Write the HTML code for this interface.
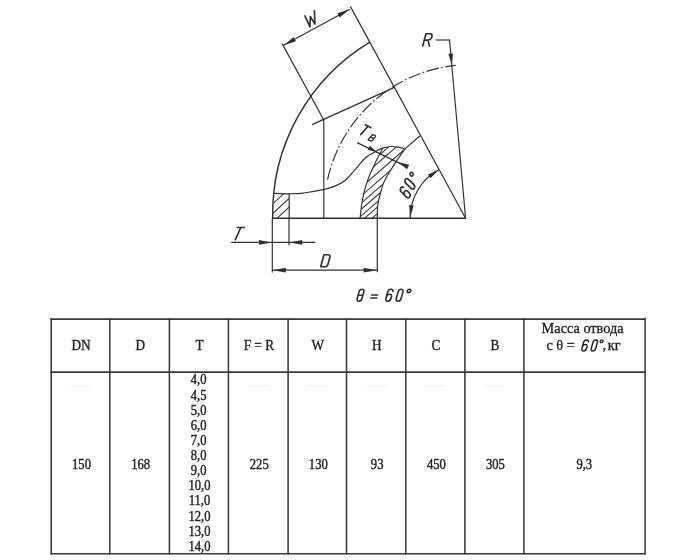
<!DOCTYPE html>
<html><head><meta charset="utf-8"><title>Elbow 60</title>
<style>
html,body{margin:0;padding:0;background:#fff;}
body{width:700px;height:560px;position:relative;overflow:hidden;font-family:"Liberation Serif",serif;}
</style></head><body>
<svg width="700" height="560" viewBox="0 0 700 560" style="position:absolute;left:0;top:0;filter:grayscale(1) blur(0.3px)">
<line x1="272.10" y1="218.30" x2="465.90" y2="218.30" stroke="#303030" stroke-width="1.45" />
<line x1="350.30" y1="6.40" x2="465.60" y2="218.30" stroke="#303030" stroke-width="1.18" />
<line x1="282.10" y1="43.60" x2="323.40" y2="119.30" stroke="#303030" stroke-width="1.18" />
<line x1="283.60" y1="45.30" x2="349.80" y2="9.30" stroke="#303030" stroke-width="1.18" />
<polygon points="283.60,45.30 293.72,37.12 295.97,41.25" fill="#303030"/>
<polygon points="349.80,9.30 339.68,17.48 337.43,13.35" fill="#303030"/>
<line x1="449.50" y1="40.00" x2="465.60" y2="218.30" stroke="#303030" stroke-width="1.18" />
<line x1="435.70" y1="40.00" x2="450.00" y2="40.00" stroke="#303030" stroke-width="1.18" />
<polygon points="451.80,65.60 448.38,53.86 453.06,53.44" fill="#303030"/>
<path d="M272.71,218.30 A200.79,200.79 0 0 1 369.83,42.05" fill="none" stroke="#303030" stroke-width="1.45" />
<clipPath id="cr"><polygon points="272.8,218.3 274.0,193.3 289.2,193.7 289.2,218.3"/></clipPath>
<g clip-path="url(#cr)" stroke="#333" stroke-width="1.05"><line x1="-63.97" y1="517.91" x2="521.11" y2="-27.69"/><line x1="-59.16" y1="523.07" x2="525.92" y2="-22.53"/><line x1="-54.80" y1="527.75" x2="530.29" y2="-17.85"/></g>
<line x1="289.20" y1="193.50" x2="289.20" y2="218.30" stroke="#303030" stroke-width="1.18" />
<line x1="323.80" y1="119.30" x2="323.80" y2="218.30" stroke="#303030" stroke-width="1.18" />
<line x1="312.10" y1="124.60" x2="394.40" y2="87.40" stroke="#303030" stroke-width="1.18" />
<path d="M274.00,193.30 C275.57,193.38 280.83,193.72 283.40,193.80 C285.97,193.88 286.53,193.88 289.40,193.80 C292.27,193.72 297.17,193.60 300.60,193.30 C304.03,193.00 306.43,192.57 310.00,192.00 C313.57,191.43 317.95,190.83 322.00,189.90 C326.05,188.97 330.35,188.05 334.30,186.40 C338.25,184.75 342.20,182.85 345.70,180.00 C349.20,177.15 351.90,173.08 355.30,169.30 C358.70,165.52 362.58,160.33 366.10,157.30 C369.62,154.27 373.53,152.67 376.40,151.10 C379.27,149.53 380.87,148.67 383.30,147.90 C385.73,147.13 388.43,146.62 391.00,146.50 C393.57,146.38 396.38,146.80 398.70,147.20 C401.02,147.60 403.87,148.62 404.90,148.90" fill="none" stroke="#303030" stroke-width="1.18" />
<path d="M360.10,218.30 C360.35,216.08 360.93,209.37 361.60,205.00 C362.27,200.63 363.18,195.95 364.10,192.10 C365.02,188.25 366.17,184.75 367.10,181.90 C368.03,179.05 368.70,177.40 369.70,175.00 C370.70,172.60 371.70,170.48 373.10,167.50 C374.50,164.52 376.52,160.25 378.10,157.10 C379.68,153.95 381.85,150.02 382.60,148.60" fill="none" stroke="#303030" stroke-width="1.18" />
<path d="M404.90,148.90 C404.02,150.18 401.60,153.65 399.60,156.60 C397.60,159.55 394.88,163.53 392.90,166.60 C390.92,169.67 389.35,172.03 387.70,175.00 C386.05,177.97 384.28,181.12 383.00,184.40 C381.72,187.68 380.87,191.27 380.00,194.70 C379.13,198.13 378.27,201.07 377.80,205.00 C377.33,208.93 377.30,216.08 377.20,218.30" fill="none" stroke="#303030" stroke-width="1.18" />
<clipPath id="cc"><path d="M360.10,218.30 C360.35,216.08 360.93,209.37 361.60,205.00 C362.27,200.63 363.18,195.95 364.10,192.10 C365.02,188.25 366.17,184.75 367.10,181.90 C368.03,179.05 368.70,177.40 369.70,175.00 C370.70,172.60 371.70,170.48 373.10,167.50 C374.50,164.52 376.52,160.25 378.10,157.10 C379.68,153.95 381.85,150.02 382.60,148.60 L382.60,148.40 C384.00,148.08 388.32,146.70 391.00,146.50 C393.68,146.30 396.38,146.80 398.70,147.20 C401.02,147.60 403.87,148.62 404.90,148.90 L404.90,148.90 C404.02,150.18 401.60,153.65 399.60,156.60 C397.60,159.55 394.88,163.53 392.90,166.60 C390.92,169.67 389.35,172.03 387.70,175.00 C386.05,177.97 384.28,181.12 383.00,184.40 C381.72,187.68 380.87,191.27 380.00,194.70 C379.13,198.13 378.27,201.07 377.80,205.00 C377.33,208.93 377.30,216.08 377.20,218.30 Z"/></clipPath>
<g clip-path="url(#cc)" stroke="#333" stroke-width="1.05"><line x1="-61.83" y1="538.57" x2="541.94" y2="13.72"/><line x1="-58.55" y1="542.35" x2="545.22" y2="17.50"/><line x1="-53.76" y1="547.85" x2="550.01" y2="23.01"/><line x1="-49.43" y1="552.84" x2="554.34" y2="27.99"/><line x1="-45.89" y1="556.91" x2="557.88" y2="32.06"/><line x1="-42.81" y1="560.46" x2="560.96" y2="35.61"/><line x1="-39.53" y1="564.23" x2="564.24" y2="39.38"/><line x1="-36.90" y1="567.25" x2="566.87" y2="42.40"/><line x1="-33.69" y1="570.95" x2="570.08" y2="46.10"/></g>
<line x1="404.90" y1="148.90" x2="419.80" y2="136.00" stroke="#303030" stroke-width="1.18" />
<path d="M327.57,179.69 A146.04,146.04 0 0 1 455.74,65.40" fill="none" stroke="#303030" stroke-width="1.15" stroke-dasharray="12.6 2.5 1.6 2.5"/>
<line x1="357.10" y1="142.60" x2="408.00" y2="167.40" stroke="#303030" stroke-width="1.18" />
<polygon points="376.50,151.60 367.72,149.99 369.82,145.68" fill="#303030"/>
<polygon points="398.00,162.10 409.14,164.80 407.00,169.21" fill="#303030"/>
<path d="M410.10,218.30 A55.5,55.5 0 0 1 439.07,169.55" fill="none" stroke="#303030" stroke-width="1.18" />
<polygon points="410.10,218.00 409.15,205.03 413.73,205.51" fill="#303030"/>
<polygon points="439.07,169.55 430.49,178.25 427.89,174.46" fill="#303030"/>
<line x1="272.30" y1="218.30" x2="272.30" y2="272.50" stroke="#303030" stroke-width="1.18" />
<line x1="377.30" y1="218.30" x2="377.30" y2="272.30" stroke="#303030" stroke-width="1.18" />
<line x1="272.30" y1="270.20" x2="377.30" y2="270.20" stroke="#303030" stroke-width="1.18" />
<polygon points="272.60,270.20 285.90,267.85 285.90,272.55" fill="#303030"/>
<polygon points="377.00,270.20 363.70,272.55 363.70,267.85" fill="#303030"/>
<line x1="289.00" y1="218.30" x2="289.00" y2="245.30" stroke="#303030" stroke-width="1.18" />
<line x1="231.20" y1="242.40" x2="315.20" y2="242.40" stroke="#303030" stroke-width="1.18" />
<polygon points="272.00,242.40 259.00,244.75 259.00,240.05" fill="#303030"/>
<polygon points="289.20,242.40 302.20,240.05 302.20,244.75" fill="#303030"/>
<path d="M0,-1 L0.57,-1 M0.285,-1 L0.285,0" transform="translate(231.90,239.70) rotate(0) scale(12.2) skewX(-24)" fill="none" stroke="#303030" stroke-width="1.65" vector-effect="non-scaling-stroke" stroke-linecap="round" stroke-linejoin="round"/>
<path d="M0,0 L0,-1 L0.33,-1 Q0.55,-1 0.55,-0.79 L0.55,-0.21 Q0.55,0 0.33,0 Z" transform="translate(320.70,266.70) rotate(0) scale(12.0) skewX(-15)" fill="none" stroke="#303030" stroke-width="1.65" vector-effect="non-scaling-stroke" stroke-linecap="round" stroke-linejoin="round"/>
<path d="M0.2,-1 Q0,-1 0,-0.78 L0,-0.22 Q0,0 0.2,0 Q0.4,0 0.4,-0.22 L0.4,-0.78 Q0.4,-1 0.2,-1 Z M0,-0.5 L0.4,-0.5" transform="translate(356.50,301.20) rotate(0) scale(12.0) skewX(-15)" fill="none" stroke="#303030" stroke-width="1.65" vector-effect="non-scaling-stroke" stroke-linecap="round" stroke-linejoin="round"/>
<path d="M0,-0.52 L0.5,-0.52 M0,-0.27 L0.5,-0.27" transform="translate(370.00,301.20) rotate(0) scale(12.0) skewX(-15)" fill="none" stroke="#303030" stroke-width="1.65" vector-effect="non-scaling-stroke" stroke-linecap="round" stroke-linejoin="round"/>
<path d="M0.42,-0.82 Q0.42,-1 0.21,-1 Q0,-1 0,-0.78 L0,-0.22 Q0,0 0.21,0 Q0.42,0 0.42,-0.22 L0.42,-0.36 Q0.42,-0.58 0.21,-0.58 Q0,-0.58 0,-0.36" transform="translate(385.20,301.20) rotate(0) scale(12.0) skewX(-15)" fill="none" stroke="#303030" stroke-width="1.65" vector-effect="non-scaling-stroke" stroke-linecap="round" stroke-linejoin="round"/>
<path d="M0.2,-1 Q0,-1 0,-0.78 L0,-0.22 Q0,0 0.2,0 Q0.4,0 0.4,-0.22 L0.4,-0.78 Q0.4,-1 0.2,-1 Z" transform="translate(395.60,301.20) rotate(0) scale(12.0) skewX(-15)" fill="none" stroke="#303030" stroke-width="1.65" vector-effect="non-scaling-stroke" stroke-linecap="round" stroke-linejoin="round"/>
<path d="M0.145,-1 A0.145,0.145 0 1 0 0.145,-0.71 A0.145,0.145 0 1 0 0.145,-1 Z" transform="translate(404.50,301.20) rotate(0) scale(12.0) skewX(-15)" fill="none" stroke="#303030" stroke-width="1.65" vector-effect="non-scaling-stroke" stroke-linecap="round" stroke-linejoin="round"/>
<path d="M0,0 L0,-1 L0.3,-1 Q0.55,-1 0.55,-0.74 Q0.55,-0.48 0.3,-0.48 L0,-0.48 M0.3,-0.48 L0.55,0" transform="translate(422.70,46.00) rotate(0) scale(12.3) skewX(-15)" fill="none" stroke="#303030" stroke-width="1.65" vector-effect="non-scaling-stroke" stroke-linecap="round" stroke-linejoin="round"/>
<path d="M0,-1 L0.21,0 L0.44,-0.74 L0.68,0 L0.9,-1" transform="translate(307.80,28.00) rotate(-28.537641514728854) scale(12.0) skewX(-15)" fill="none" stroke="#303030" stroke-width="1.65" vector-effect="non-scaling-stroke" stroke-linecap="round" stroke-linejoin="round"/>
<path d="M0,-1 L0.57,-1 M0.285,-1 L0.285,0" transform="translate(357.90,133.30) rotate(25.976726567548035) scale(10.8) skewX(-15)" fill="none" stroke="#303030" stroke-width="1.65" vector-effect="non-scaling-stroke" stroke-linecap="round" stroke-linejoin="round"/>
<path d="M0,0 L0,-1 L0.3,-1 Q0.55,-1 0.55,-0.76 Q0.55,-0.52 0.3,-0.52 L0,-0.52 M0.3,-0.52 Q0.55,-0.52 0.55,-0.26 Q0.55,0 0.3,0 L0,0" transform="translate(368.20,139.80) rotate(25.976726567548035) scale(6.8) skewX(-15)" fill="none" stroke="#303030" stroke-width="1.35" vector-effect="non-scaling-stroke" stroke-linecap="round" stroke-linejoin="round"/>
<path d="M0.42,-0.82 Q0.42,-1 0.21,-1 Q0,-1 0,-0.78 L0,-0.22 Q0,0 0.21,0 Q0.42,0 0.42,-0.22 L0.42,-0.36 Q0.42,-0.58 0.21,-0.58 Q0,-0.58 0,-0.36" transform="translate(408.60,198.90) rotate(-61.7) scale(12.0) skewX(-15)" fill="none" stroke="#303030" stroke-width="1.65" vector-effect="non-scaling-stroke" stroke-linecap="round" stroke-linejoin="round"/>
<path d="M0.2,-1 Q0,-1 0,-0.78 L0,-0.22 Q0,0 0.2,0 Q0.4,0 0.4,-0.22 L0.4,-0.78 Q0.4,-1 0.2,-1 Z" transform="translate(413.20,190.30) rotate(-61.7) scale(12.0) skewX(-15)" fill="none" stroke="#303030" stroke-width="1.65" vector-effect="non-scaling-stroke" stroke-linecap="round" stroke-linejoin="round"/>
<path d="M0.145,-1 A0.145,0.145 0 1 0 0.145,-0.71 A0.145,0.145 0 1 0 0.145,-1 Z" transform="translate(418.50,183.00) rotate(-61.7) scale(12.0) skewX(-15)" fill="none" stroke="#303030" stroke-width="1.65" vector-effect="non-scaling-stroke" stroke-linecap="round" stroke-linejoin="round"/>
<line x1="51.20" y1="318.33" x2="51.20" y2="554.57" stroke="#3a3a3a" stroke-width="1.55" />
<line x1="109.80" y1="318.33" x2="109.80" y2="554.57" stroke="#3a3a3a" stroke-width="1.55" />
<line x1="169.40" y1="318.33" x2="169.40" y2="554.57" stroke="#3a3a3a" stroke-width="1.55" />
<line x1="228.40" y1="318.33" x2="228.40" y2="554.57" stroke="#3a3a3a" stroke-width="1.55" />
<line x1="288.10" y1="318.33" x2="288.10" y2="554.57" stroke="#3a3a3a" stroke-width="1.55" />
<line x1="346.50" y1="318.33" x2="346.50" y2="554.57" stroke="#3a3a3a" stroke-width="1.55" />
<line x1="405.80" y1="318.33" x2="405.80" y2="554.57" stroke="#3a3a3a" stroke-width="1.55" />
<line x1="464.90" y1="318.33" x2="464.90" y2="554.57" stroke="#3a3a3a" stroke-width="1.55" />
<line x1="523.90" y1="318.33" x2="523.90" y2="554.57" stroke="#3a3a3a" stroke-width="1.55" />
<line x1="645.10" y1="318.33" x2="645.10" y2="554.57" stroke="#3a3a3a" stroke-width="1.55" />
<line x1="50.43" y1="319.10" x2="645.88" y2="319.10" stroke="#3a3a3a" stroke-width="1.55" />
<line x1="50.43" y1="372.10" x2="645.88" y2="372.10" stroke="#3a3a3a" stroke-width="1.55" />
<line x1="50.43" y1="553.80" x2="645.88" y2="553.80" stroke="#3a3a3a" stroke-width="1.55" />
<line x1="70.70" y1="386.00" x2="90.70" y2="386.00" stroke="#f4f4f4" stroke-width="1.6" />
<line x1="249.60" y1="386.00" x2="269.60" y2="386.00" stroke="#f4f4f4" stroke-width="1.6" />
<line x1="306.40" y1="386.00" x2="326.40" y2="386.00" stroke="#f4f4f4" stroke-width="1.6" />
<line x1="366.40" y1="386.00" x2="386.40" y2="386.00" stroke="#f4f4f4" stroke-width="1.6" />
<line x1="425.40" y1="386.00" x2="445.40" y2="386.00" stroke="#f4f4f4" stroke-width="1.6" />
<line x1="484.30" y1="386.00" x2="504.30" y2="386.00" stroke="#f4f4f4" stroke-width="1.6" />
<g>
<text transform="translate(81.10,350.10) scale(0.93,1)" font-family="Liberation Serif, serif" font-size="14.3" fill="#222" stroke="#222" stroke-width="0.35" text-anchor="middle" >DN</text>
<text transform="translate(140.20,350.10) scale(0.93,1)" font-family="Liberation Serif, serif" font-size="14.3" fill="#222" stroke="#222" stroke-width="0.35" text-anchor="middle" >D</text>
<text transform="translate(199.50,350.10) scale(0.93,1)" font-family="Liberation Serif, serif" font-size="14.3" fill="#222" stroke="#222" stroke-width="0.35" text-anchor="middle" >T</text>
<text transform="translate(258.85,350.10) scale(0.93,1)" font-family="Liberation Serif, serif" font-size="14.3" fill="#222" stroke="#222" stroke-width="0.35" text-anchor="middle" >F = R</text>
<text transform="translate(317.90,350.10) scale(0.93,1)" font-family="Liberation Serif, serif" font-size="14.3" fill="#222" stroke="#222" stroke-width="0.35" text-anchor="middle" >W</text>
<text transform="translate(376.75,350.10) scale(0.93,1)" font-family="Liberation Serif, serif" font-size="14.3" fill="#222" stroke="#222" stroke-width="0.35" text-anchor="middle" >H</text>
<text transform="translate(435.95,350.10) scale(0.93,1)" font-family="Liberation Serif, serif" font-size="14.3" fill="#222" stroke="#222" stroke-width="0.35" text-anchor="middle" >C</text>
<text transform="translate(495.00,350.10) scale(0.93,1)" font-family="Liberation Serif, serif" font-size="14.3" fill="#222" stroke="#222" stroke-width="0.35" text-anchor="middle" >B</text>
<text transform="translate(81.50,469.20) scale(0.9,1)" font-family="Liberation Serif, serif" font-size="14.0" fill="#222" stroke="#222" stroke-width="0.4" text-anchor="middle" >150</text>
<text transform="translate(140.60,469.20) scale(0.9,1)" font-family="Liberation Serif, serif" font-size="14.0" fill="#222" stroke="#222" stroke-width="0.4" text-anchor="middle" >168</text>
<text transform="translate(259.25,469.20) scale(0.9,1)" font-family="Liberation Serif, serif" font-size="14.0" fill="#222" stroke="#222" stroke-width="0.4" text-anchor="middle" >225</text>
<text transform="translate(318.30,469.20) scale(0.9,1)" font-family="Liberation Serif, serif" font-size="14.0" fill="#222" stroke="#222" stroke-width="0.4" text-anchor="middle" >130</text>
<text transform="translate(377.15,469.20) scale(0.9,1)" font-family="Liberation Serif, serif" font-size="14.0" fill="#222" stroke="#222" stroke-width="0.4" text-anchor="middle" >93</text>
<text transform="translate(436.35,469.20) scale(0.9,1)" font-family="Liberation Serif, serif" font-size="14.0" fill="#222" stroke="#222" stroke-width="0.4" text-anchor="middle" >450</text>
<text transform="translate(495.40,469.20) scale(0.9,1)" font-family="Liberation Serif, serif" font-size="14.0" fill="#222" stroke="#222" stroke-width="0.4" text-anchor="middle" >305</text>
<text transform="translate(198.60,384.40) scale(0.9,1)" font-family="Liberation Serif, serif" font-size="14.0" fill="#222" stroke="#222" stroke-width="0.4" text-anchor="middle" >4,0</text>
<text transform="translate(198.60,399.53) scale(0.9,1)" font-family="Liberation Serif, serif" font-size="14.0" fill="#222" stroke="#222" stroke-width="0.4" text-anchor="middle" >4,5</text>
<text transform="translate(198.60,414.66) scale(0.9,1)" font-family="Liberation Serif, serif" font-size="14.0" fill="#222" stroke="#222" stroke-width="0.4" text-anchor="middle" >5,0</text>
<text transform="translate(198.60,429.79) scale(0.9,1)" font-family="Liberation Serif, serif" font-size="14.0" fill="#222" stroke="#222" stroke-width="0.4" text-anchor="middle" >6,0</text>
<text transform="translate(198.60,444.92) scale(0.9,1)" font-family="Liberation Serif, serif" font-size="14.0" fill="#222" stroke="#222" stroke-width="0.4" text-anchor="middle" >7,0</text>
<text transform="translate(198.60,460.05) scale(0.9,1)" font-family="Liberation Serif, serif" font-size="14.0" fill="#222" stroke="#222" stroke-width="0.4" text-anchor="middle" >8,0</text>
<text transform="translate(198.60,475.18) scale(0.9,1)" font-family="Liberation Serif, serif" font-size="14.0" fill="#222" stroke="#222" stroke-width="0.4" text-anchor="middle" >9,0</text>
<text transform="translate(199.50,490.31) scale(0.9,1)" font-family="Liberation Serif, serif" font-size="14.0" fill="#222" stroke="#222" stroke-width="0.4" text-anchor="middle" >10,0</text>
<text transform="translate(199.50,505.44) scale(0.9,1)" font-family="Liberation Serif, serif" font-size="14.0" fill="#222" stroke="#222" stroke-width="0.4" text-anchor="middle" >11,0</text>
<text transform="translate(199.50,520.57) scale(0.9,1)" font-family="Liberation Serif, serif" font-size="14.0" fill="#222" stroke="#222" stroke-width="0.4" text-anchor="middle" >12,0</text>
<text transform="translate(199.50,535.70) scale(0.9,1)" font-family="Liberation Serif, serif" font-size="14.0" fill="#222" stroke="#222" stroke-width="0.4" text-anchor="middle" >13,0</text>
<text transform="translate(199.50,550.83) scale(0.9,1)" font-family="Liberation Serif, serif" font-size="14.0" fill="#222" stroke="#222" stroke-width="0.4" text-anchor="middle" >14,0</text>
<text transform="translate(584.30,469.20) scale(0.9,1)" font-family="Liberation Serif, serif" font-size="14.0" fill="#222" stroke="#222" stroke-width="0.4" text-anchor="middle" >9,3</text>
<text transform="translate(582.60,332.60) scale(1.0,1)" font-family="Liberation Serif, serif" font-size="14.3" fill="#222" stroke="#222" stroke-width="0.3" text-anchor="middle" >Масса отвода</text>
<text transform="translate(546.40,350.30) scale(1.0,1)" font-family="Liberation Serif, serif" font-size="14.3" fill="#222" stroke="#222" stroke-width="0.3" text-anchor="start" >с θ =</text>
<text transform="translate(602.60,350.30) scale(1.0,1)" font-family="Liberation Serif, serif" font-size="14.3" fill="#222" stroke="#222" stroke-width="0.3" text-anchor="start" >,</text>
<text transform="translate(607.80,350.30) scale(1.0,1)" font-family="Liberation Serif, serif" font-size="14.3" fill="#222" stroke="#222" stroke-width="0.3" text-anchor="start" >кг</text>
<path d="M0.42,-0.82 Q0.42,-1 0.21,-1 Q0,-1 0,-0.78 L0,-0.22 Q0,0 0.21,0 Q0.42,0 0.42,-0.22 L0.42,-0.36 Q0.42,-0.58 0.21,-0.58 Q0,-0.58 0,-0.36" transform="translate(581.20,351.00) rotate(0) scale(11.1) skewX(-15)" fill="none" stroke="#222" stroke-width="1.45" vector-effect="non-scaling-stroke" stroke-linecap="round" stroke-linejoin="round"/>
<path d="M0.2,-1 Q0,-1 0,-0.78 L0,-0.22 Q0,0 0.2,0 Q0.4,0 0.4,-0.22 L0.4,-0.78 Q0.4,-1 0.2,-1 Z" transform="translate(590.60,351.00) rotate(0) scale(11.1) skewX(-15)" fill="none" stroke="#222" stroke-width="1.45" vector-effect="non-scaling-stroke" stroke-linecap="round" stroke-linejoin="round"/>
<path d="M0.125,-1 A0.125,0.125 0 1 0 0.125,-0.75 A0.125,0.125 0 1 0 0.125,-1 Z" transform="translate(597.60,351.00) rotate(0) scale(11.1) skewX(-15)" fill="none" stroke="#222" stroke-width="1.3" vector-effect="non-scaling-stroke" stroke-linecap="round" stroke-linejoin="round"/>
</g>
</svg>
</body></html>
